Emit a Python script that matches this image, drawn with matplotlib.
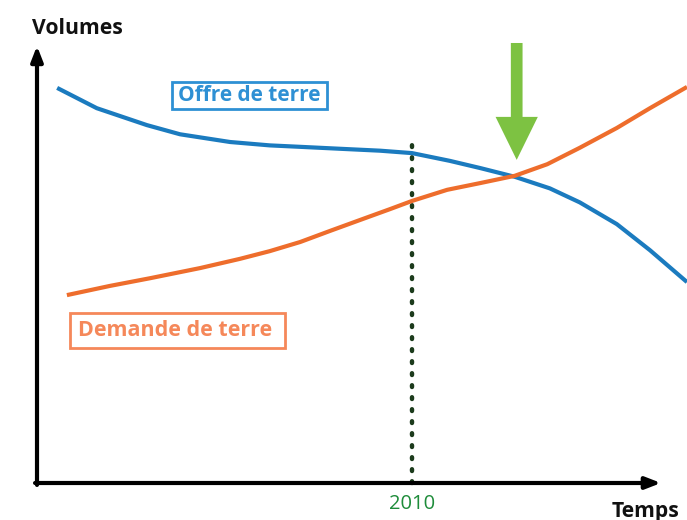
import matplotlib
matplotlib.use("Agg")
import matplotlib.pyplot as plt
from matplotlib.patches import Rectangle

# ---- data (arbitrary units: time 0-100, volume 0-100) ----
offre_t = [3.1, 9.2, 16.9, 22.0, 29.7, 35.8, 40.5, 46.6, 52.8, 57.7, 63.5, 68.2, 73.5, 78.9, 83.5, 89.2, 94.3, 100.0]
offre_v = [81.8, 77.6, 74.1, 72.2, 70.6, 69.9, 69.6, 69.2, 68.8, 68.3, 66.7, 65.2, 63.4, 61.0, 58.1, 53.6, 48.2, 41.6]
demande_t = [4.6, 11.2, 17.4, 25.1, 31.2, 35.8, 40.5, 45.1, 50.2, 54.3, 57.7, 63.1, 68.2, 73.5, 78.5, 83.5, 89.2, 94.3, 100.0]
demande_v = [38.9, 40.8, 42.4, 44.5, 46.4, 48.0, 49.9, 52.2, 54.7, 56.7, 58.4, 60.7, 62.1, 63.6, 66.0, 69.4, 73.5, 77.6, 82.0]
year_t = 57.7
year_label = "2010"
cross_t = 73.8

plt.rcParams['font.family'] = ['Open Sans', 'DejaVu Sans']

fig = plt.figure(figsize=(6.87, 5.20), dpi=100)
ax = fig.add_axes([0, 0, 1, 1])
ax.set_xlim(-37 / 6.5, 100)
ax.set_ylim(-37 / 4.83, 100)
ax.axis('off')

blue_line = '#1b7bbf'
blue_txt = '#2e90d4'
orange_line = '#ee6d2c'
orange_txt = '#f5885a'

ax.plot(offre_t, offre_v, color=blue_line, lw=3.0, solid_capstyle='butt',
        solid_joinstyle='round', zorder=3)
ax.plot(demande_t, demande_v, color=orange_line, lw=3.0, solid_capstyle='butt',
        solid_joinstyle='round', zorder=3)

# dotted 2010 line
ax.plot([year_t, year_t], [0, 71.4], color='#1c3b1c', lw=3.2,
        linestyle=(0, (0.4, 2.3)), dash_capstyle='round', zorder=2)
ax.text(year_t, -4.3, year_label, color='#1e8c3a', fontsize=14.5, ha='center', va='center')

# axes arrows
ax.annotate('', xy=(0, 90.5), xytext=(0, -0.4),
            arrowprops=dict(arrowstyle='-|>,head_length=0.9,head_width=0.35', color='black', lw=3,
                            shrinkA=0, shrinkB=0))
ax.annotate('', xy=(96.0, 0), xytext=(-0.3, 0),
            arrowprops=dict(arrowstyle='-|>,head_length=0.9,head_width=0.35', color='black', lw=3,
                            shrinkA=0, shrinkB=0))

ax.text(-0.8, 94.2, 'Volumes', fontsize=15.2, fontweight='bold', ha='left', va='center', color='#111111')
ax.text(88.4, -5.8, 'Temps', fontsize=15.2, fontweight='bold', ha='left', va='center', color='#111111')

# labels with boxes
ax.add_patch(Rectangle((20.8, 77.4), 23.8, 5.6, fc='white', ec=blue_txt, lw=2, zorder=4))
ax.text(32.6, 80.2, 'Offre de terre', fontsize=15, fontweight='bold', color=blue_txt,
        ha='center', va='center', zorder=5)
ax.add_patch(Rectangle((5.1, 27.95), 33.1, 7.25, fc='white', ec=orange_txt, lw=2, zorder=4))
ax.text(21.3, 31.6, 'Demande de terre', fontsize=15.5, fontweight='bold', color=orange_txt,
        ha='center', va='center', zorder=5)

# green arrow pointing to the crossing
ax.arrow(cross_t, 91.1, 0, -24.2, width=1.8, head_width=6.5, head_length=8.9,
         length_includes_head=True, color='#7dc242', ec='none', zorder=4)

fig.savefig('out.png', dpi=100)
